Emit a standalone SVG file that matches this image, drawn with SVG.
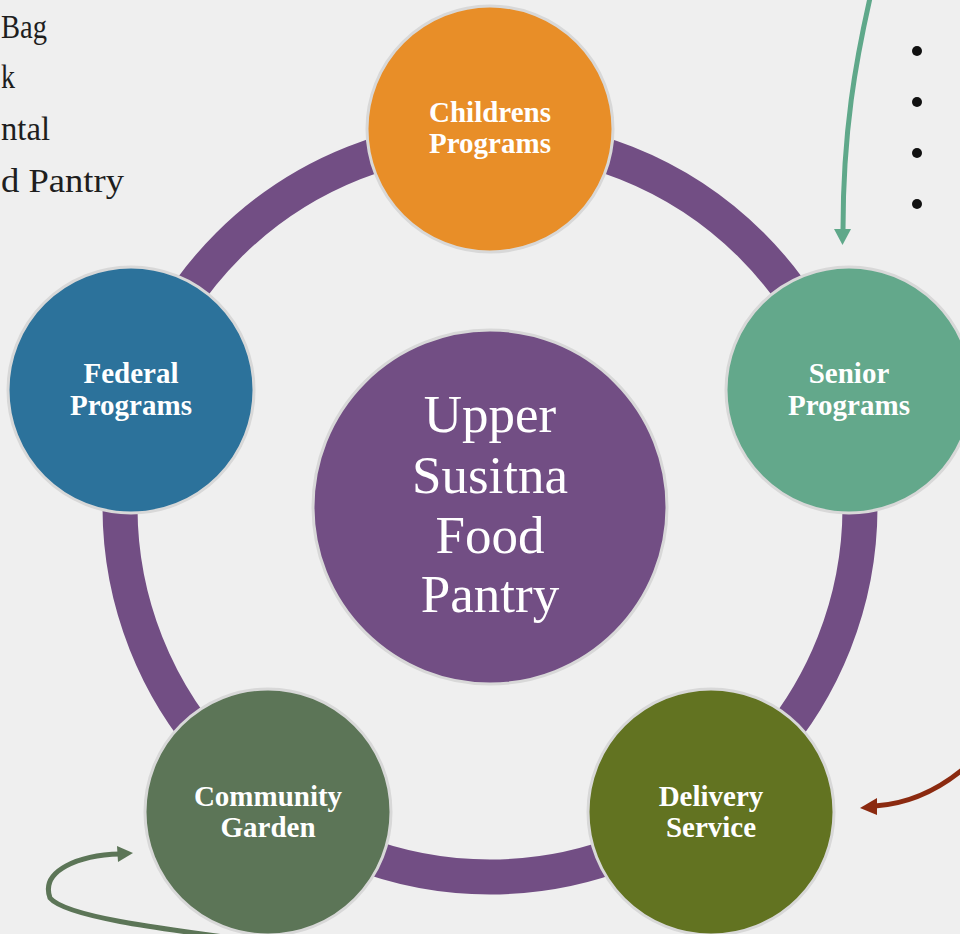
<svg xmlns="http://www.w3.org/2000/svg" width="960" height="934" viewBox="0 0 960 934">
<defs>
<style>
.node{stroke:#d8d8d8;stroke-width:3}
.lbl{font-family:"Liberation Serif",serif;font-weight:bold;font-size:29px;fill:#ffffff;text-anchor:middle}
.big{font-family:"Liberation Serif",serif;font-size:53px;fill:#ffffff;text-anchor:middle}
.side{font-family:"Liberation Serif",serif;font-size:33px;fill:#1e1e1e}
</style>
</defs>
<rect width="960" height="934" fill="#efefef"/>
<g id="sidetext">
<text class="side" x="1" y="38" textLength="46" lengthAdjust="spacingAndGlyphs">Bag</text>
<text class="side" x="1" y="88" textLength="14" lengthAdjust="spacingAndGlyphs">k</text>
<text class="side" x="1" y="140" textLength="49" lengthAdjust="spacingAndGlyphs">ntal</text>
<text class="side" x="1" y="192" textLength="123" lengthAdjust="spacingAndGlyphs">d Pantry</text>
<circle cx="917" cy="51" r="5" fill="#111"/>
<circle cx="917" cy="102" r="5" fill="#111"/>
<circle cx="917" cy="153" r="5" fill="#111"/>
<circle cx="917" cy="204" r="5" fill="#111"/>
</g>
<g id="connectors">
<circle cx="490" cy="507" r="370" fill="none" stroke="#724e84" stroke-width="35"/>
<path d="M870,-2 C856,60 843,130 843,230" fill="none" stroke="#5fa88a" stroke-width="5"/>
<path d="M834,229 L851,229 L842.5,245 z" fill="#5fa88a"/>
<path d="M962,770 C935,792 905,804 875,806" fill="none" stroke="#8b2a10" stroke-width="5"/>
<path d="M877,798 L877,815 L860,808 z" fill="#8b2a10"/>
<path d="M320,950 C220,935 70,922 50,898 C40,870 80,855 120,854" fill="none" stroke="#5c7557" stroke-width="5"/>
<path d="M117,846 L133,853 L118,862 z" fill="#5c7557"/>
</g>
<g id="center">
<circle class="node" cx="490" cy="507" r="177" fill="#724e84"/>
<text class="big" x="490" y="432">Upper</text>
<text class="big" x="490" y="493">Susitna</text>
<text class="big" x="490" y="553">Food</text>
<text class="big" x="490" y="612">Pantry</text>
</g>
<g id="childrens">
<circle class="node" cx="490" cy="129" r="123" fill="#e88e28"/>
<text class="lbl" x="490" y="122">Childrens</text>
<text class="lbl" x="490" y="153">Programs</text>
</g>
<g id="federal">
<circle class="node" cx="131" cy="390" r="123" fill="#2c729b"/>
<text class="lbl" x="131" y="383">Federal</text>
<text class="lbl" x="131" y="415">Programs</text>
</g>
<g id="senior">
<circle class="node" cx="849" cy="390" r="123" fill="#63a88b"/>
<text class="lbl" x="849" y="383">Senior</text>
<text class="lbl" x="849" y="415">Programs</text>
</g>
<g id="community">
<circle class="node" cx="268" cy="812" r="123" fill="#5c7557"/>
<text class="lbl" x="268" y="806">Community</text>
<text class="lbl" x="268" y="837">Garden</text>
</g>
<g id="delivery">
<circle class="node" cx="711" cy="812" r="123" fill="#627321"/>
<text class="lbl" x="711" y="806">Delivery</text>
<text class="lbl" x="711" y="837">Service</text>
</g>
</svg>
